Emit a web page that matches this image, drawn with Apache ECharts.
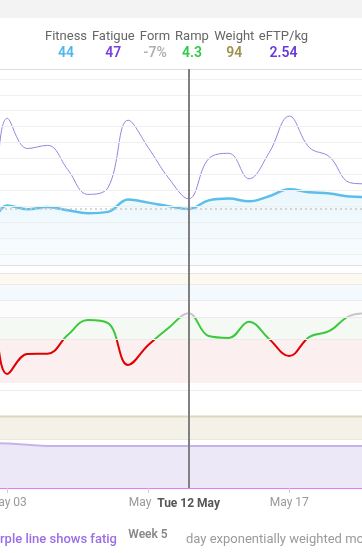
<!DOCTYPE html>
<html><head><meta charset="utf-8">
<script src="https://cdn.jsdelivr.net/npm/echarts@6/dist/echarts.min.js"></script>
<style>html,body{margin:0;padding:0;background:#fff}#c{width:362px;height:553px}</style>
</head><body><div id="c"></div>
<script>
// ---- data (day of May) ----
const days    = [1, 2, 3, 4, 5, 6, 7, 8, 9, 10, 11, 12, 13, 14, 15, 16, 17, 18, 19, 20, 21, 22];
const fitness = [40, 39.5, 45.2, 44, 44.7, 43.7, 42.8, 43.2, 47.1, 46.1, 45, 44.1, 46.8, 47.4, 46.5, 48.1, 50.3, 49.4, 49, 48, 47.8, 47.5];
const fatigue = [45, 42, 72.6, 63.1, 64.1, 56.5, 48.7, 50.8, 72, 63.4, 53.9, 47.3, 59.9, 61.6, 53.6, 61.8, 73.3, 63.4, 60.5, 52.4, 51.8, 50];
const form    = [-5, 0, -61.8, -43.6, -43.4, -26.4, -12.7, -15.5, -53.6, -35.5, -20, -6.6, -27.3, -29, -14.3, -30, -45.5, -28, -22.7, -9, -6.4, -5];
const weight  = [94, 94, 94, 94, 94, 94, 94, 94, 94, 94, 94, 94, 94, 94, 94, 94, 94, 94, 94, 94, 94, 94];
const eftpKg  = [2.70, 2.70, 2.69, 2.61, 2.54, 2.54, 2.54, 2.54, 2.54, 2.54, 2.54, 2.54, 2.54, 2.54, 2.54, 2.54, 2.54, 2.54, 2.54, 2.54, 2.54, 2.54];
const tickDays = [3, 10, 17];
const fitnessGridValues = [30, 35, 40, 45, 50, 55, 60, 65, 70, 75, 80, 85];
const formZones = [20, 5, -10, -30];
const selectedDay = 12;
const selectedLabel = 'Tue 12 May';
const headerLabels = ['Fitness', 'Fatigue', 'Form', 'Ramp', 'Weight', 'eFTP/kg'];
const headerValues = ['44', '47', '-7%', '4.3', '94', '2.54'];
const footerTexts = ['rple line shows fatig', 'Week 5', 'day exponentially weighted moving'];

// ---- build ----
const pair = arr => days.map((d, i) => [d, arr[i]]);
const X_MIN = 2.6375, X_MAX = 20.612;
const FONT = 'Roboto, "Noto Sans", sans-serif';
const chart = echarts.init(document.getElementById('c'), null, {renderer: 'canvas'});

const hiddenX = (gi) => ({type: 'value', gridIndex: gi, min: X_MIN, max: X_MAX, show: true,
  axisLine: {show: true, lineStyle: {color: '#e0e0e0', width: 1}}, axisTick: {show: false},
  axisLabel: {show: false}, splitLine: {show: false}});
const hiddenY = (gi, min, max) => ({type: 'value', gridIndex: gi, min: min, max: max, show: false, splitLine: {show: false}});
const mkGrid = (top, height) => ({left: 0, right: 0, top: top, height: height, containLabel: false, outerBoundsMode: 'none'});

const headerColors = ['#4db6ea', '#7a3fe0', '#b0b0b0', '#2fcb45', '#a0924e', '#6a3ad8'];
const headerX = [66, 113.3, 155, 192, 234.3, 283.5];
const graphics = [
  {type: 'rect', shape: {x: 0, y: 0, width: 362, height: 18}, style: {fill: '#f3f3f3'}, silent: true},
  {type: 'line', shape: {x1: 0, y1: 69.5, x2: 362, y2: 69.5}, style: {stroke: '#dedede', lineWidth: 1}, silent: true}
];
headerLabels.forEach((t, i) => {
  graphics.push({type: 'text', x: headerX[i], y: 37, style: {text: t, fill: '#666', font: '13px ' + FONT, align: 'center', verticalAlign: 'middle'}});
  graphics.push({type: 'text', x: headerX[i], y: 53.5, style: {text: headerValues[i], fill: headerColors[i], font: '600 14px ' + FONT, align: 'center', verticalAlign: 'middle'}});
});
graphics.push({type: 'text', x: 0, y: 539.5, style: {text: footerTexts[0], fill: '#9a6ee6', font: '500 13px ' + FONT, align: 'left', verticalAlign: 'middle'}});
graphics.push({type: 'text', x: 148, y: 534.5, style: {text: footerTexts[1], fill: '#888', font: '600 12px ' + FONT, align: 'center', verticalAlign: 'middle'}});
graphics.push({type: 'text', x: 186, y: 539.5, style: {text: footerTexts[2], fill: '#9a9a9a', font: '13px ' + FONT, align: 'left', verticalAlign: 'middle'}});

const selIdx = days.indexOf(selectedDay);
const noSym = ['none', 'none'];

const option = {
  animation: false,
  backgroundColor: '#fff',
  textStyle: {fontFamily: FONT},
  grid: [mkGrid(69, 196), mkGrid(273, 110), mkGrid(390, 49), mkGrid(439, 49), mkGrid(69, 419)],
  xAxis: [
    hiddenX(0), hiddenX(1),
    Object.assign(hiddenX(2), {axisLine: {show: true, lineStyle: {color: '#e9e6dc', width: 1}}}),
    {type: 'value', gridIndex: 3, min: X_MIN, max: X_MAX,
      axisLine: {show: true, lineStyle: {color: '#ec7af0', width: 2}},
      axisTick: {show: true, length: 5, lineStyle: {color: '#cfcfcf'}, customValues: tickDays},
      axisLabel: {show: true, customValues: tickDays, margin: 9, color: '#999', fontSize: 12, fontFamily: FONT,
        hideOverlap: false, formatter: v => 'May ' + String(Math.round(v)).padStart(2, '0')},
      splitLine: {show: false}},
    {type: 'value', gridIndex: 4, min: X_MIN, max: X_MAX, show: false}
  ],
  yAxis: [
    hiddenY(0, 26.5, 88.1), hiddenY(1, -70, 30), hiddenY(2, 80, 110.5), hiddenY(3, 0, 2.96), hiddenY(4, 0, 1)
  ],
  visualMap: [{
    type: 'piecewise', show: false, seriesIndex: 2, dimension: 1,
    pieces: [
      {lt: -30, color: '#e00000'},
      {gte: -30, lt: -10, color: '#3cc83c'},
      {gte: -10, lt: 5, color: '#c8c8c8'},
      {gte: 5, lt: 20, color: '#5bbfea'},
      {gte: 20, color: '#e8c270'}
    ]
  }],
  series: [
    {name: 'Fitness', type: 'line', xAxisIndex: 0, yAxisIndex: 0, data: pair(fitness), smooth: 0.4,
      symbol: 'none', z: 3, lineStyle: {color: '#5bbfea', width: 2.5},
      areaStyle: {origin: 'start', color: new echarts.graphic.LinearGradient(0, 0, 0, 1, [
        {offset: 0, color: 'rgba(91,191,234,0.18)'}, {offset: 1, color: 'rgba(91,191,234,0.05)'}])},
      markLine: {silent: true, symbol: noSym, animation: false, label: {show: false},
        data: fitnessGridValues.map(v => ({yAxis: v, lineStyle: {color: '#efefef', width: 1, type: 'solid'}}))
          .concat([{yAxis: fitness[selIdx], lineStyle: {color: '#c9c9c9', width: 1.5, type: [2, 3]}}])}
    },
    {name: 'Fatigue', type: 'line', xAxisIndex: 0, yAxisIndex: 0, data: pair(fatigue), smooth: 0.4,
      symbol: 'none', z: 4, lineStyle: {color: '#9b80e2', width: 1}},
    {name: 'Form', type: 'line', xAxisIndex: 1, yAxisIndex: 1, data: pair(form), smooth: 0.4,
      symbol: 'none', z: 4, lineStyle: {width: 2},
      markArea: {silent: true, data: [
        [{yAxis: 20, itemStyle: {color: '#fdf9f1'}}, {yAxis: 30}],
        [{yAxis: 5, itemStyle: {color: '#f4f9fe'}}, {yAxis: 20}],
        [{yAxis: -10, itemStyle: {color: '#fcfcfc'}}, {yAxis: 5}],
        [{yAxis: -30, itemStyle: {color: '#f4faf3'}}, {yAxis: -10}],
        [{yAxis: -70, itemStyle: {color: '#fbf0ef'}}, {yAxis: -30}]
      ]},
      markLine: {silent: true, symbol: noSym, label: {show: false},
        data: formZones.map(v => ({yAxis: v, lineStyle: {color: '#ebebeb', width: 1, type: 'solid'}}))
          .concat([{yAxis: 30, lineStyle: {color: '#e4e4e4', width: 1, type: 'solid'}}])}
    },
    {name: 'Weight', type: 'line', xAxisIndex: 2, yAxisIndex: 2, data: pair(weight), smooth: 0.4,
      symbol: 'none', lineStyle: {color: '#ddd7be', width: 2},
      areaStyle: {origin: 'start', color: '#f4f1e9', opacity: 1},
      markLine: {silent: true, symbol: noSym, label: {show: false},
        data: [{yAxis: 110.5, lineStyle: {color: '#ececec', width: 1, type: 'solid'}}]}
    },
    {name: 'eFTP/kg', type: 'line', xAxisIndex: 3, yAxisIndex: 3, data: pair(eftpKg), smooth: 0.4,
      symbol: 'none', lineStyle: {color: '#c4b4ec', width: 2},
      areaStyle: {origin: 'start', color: '#ece8f8', opacity: 1}
    },
    {name: 'cursor', type: 'line', xAxisIndex: 4, yAxisIndex: 4, data: [[selectedDay, 0.5]], symbol: 'none',
      z: 10, lineStyle: {opacity: 0},
      markLine: {silent: true, symbol: noSym,
        data: [{xAxis: selectedDay}],
        lineStyle: {color: '#808080', width: 2, type: 'solid'},
        label: {show: true, position: 'start', distance: 8, formatter: selectedLabel,
          color: '#555', fontWeight: 'bold', fontSize: 12, fontFamily: FONT,
          backgroundColor: '#fff', padding: [2, 3]}}
    }
  ],
  graphic: graphics
};
chart.setOption(option);
</script>
</body></html>
